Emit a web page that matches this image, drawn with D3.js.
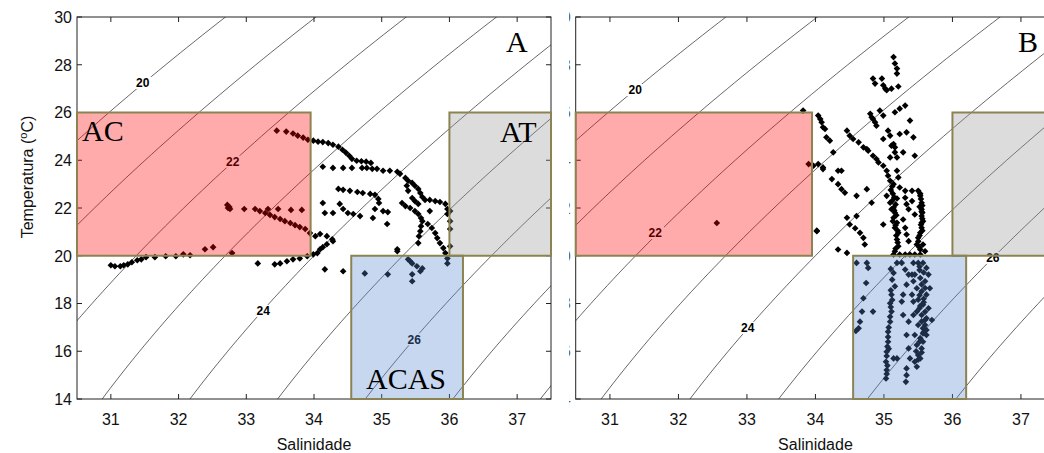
<!DOCTYPE html>
<meta charset="utf-8">
<html>
<script src="https://d3js.org/d3.v7.min.js"></script>
<style>
  body { margin: 0; background: #fff; }
  text { font-family: "Liberation Sans", Arial, sans-serif; }
</style>
<body>
<div id="chart"></div>
<script>

// ---- data ----
const xTicks = [31, 32, 33, 34, 35, 36, 37];
const yTicks = [14, 16, 18, 20, 22, 24, 26, 28, 30];
const sigmaLevels = [20, 21, 22, 23, 24, 25, 26, 27, 28];

// water mass boxes: salinity range, temperature range
const boxNames = ["AC", "AT", "ACAS"];
const boxSmin = [30.5, 36.0, 34.55];
const boxSmax = [33.95, 37.5, 36.2];
const boxTmin = [20, 20, 14];
const boxTmax = [26, 26, 20];

// contour labels (value, S, T) per panel
const labelValsA = [20, 22, 24, 26];
const labelSA = [31.47, 32.80, 33.25, 35.48];
const labelTA = [27.24, 23.94, 17.69, 16.50];
const labelValsB = [20, 22, 24, 26];
const labelSB = [31.37, 31.66, 33.01, 36.59];
const labelTB = [26.94, 20.95, 16.97, 19.91];

// panel A: [salinity, temperature]
const ptsA = [
  [31.00,19.60],[31.06,19.56],[31.14,19.56],[31.19,19.60],[31.25,19.64],[31.31,19.73],[31.39,19.81],
  [31.45,19.85],[31.52,19.94],[31.65,19.94],[31.81,19.98],[31.96,19.98],[32.07,20.06],[32.17,20.02],
  [32.39,20.27],[32.51,20.36],[32.79,20.11],
  [32.72,22.13],[32.75,22.04],[32.76,21.96],[32.73,22.00],[32.97,21.96],[33.13,21.96],[33.20,21.87],
  [33.28,21.79],[33.35,21.71],[33.42,21.62],[33.50,21.54],[33.57,21.45],[33.65,21.37],[33.72,21.28],
  [33.79,21.20],[33.87,21.12],[33.94,20.95],[34.02,20.82],[34.09,20.91],[34.19,20.82],[34.27,20.69],[34.28,20.61],
  [33.32,21.96],[33.47,21.96],[33.66,21.92],[33.82,21.92],
  [33.17,19.68],[33.42,19.64],[33.50,19.68],[33.60,19.77],[33.69,19.85],[33.79,19.89],[33.90,19.98],
  [33.99,20.06],[34.05,20.11],[34.09,20.27],[34.13,20.36],[34.19,20.48],
  [34.16,19.43],[34.43,19.35],
  [33.45,25.24],[33.59,25.20],[33.69,25.12],[33.76,25.03],[33.84,24.95],[33.91,24.86],[33.99,24.82],
  [34.06,24.78],[34.13,24.76],[34.21,24.72],[34.28,24.65],[34.36,24.57],[34.42,24.44],[34.47,24.32],
  [34.52,24.19],[34.56,24.06],[34.63,23.98],[34.70,23.96],[34.77,23.94],[34.84,23.89],
  [34.93,23.64],[35.02,23.56],[35.12,23.56],[35.23,23.52],[35.27,23.43],[35.35,23.26],[35.39,23.14],
  [35.45,23.05],[35.49,22.93],[35.54,22.80],[35.57,22.63],[35.60,22.46],[35.64,22.34],[35.71,22.34],
  [35.79,22.29],[35.86,22.25],[35.94,22.17],[35.97,21.96],[35.97,21.75],
  [34.13,23.73],[34.28,23.68],[34.43,23.68],[34.56,23.68],[34.71,23.68],[34.78,23.68],[34.86,23.64],
  [35.37,22.93],[35.39,22.72],[35.45,22.42],[35.49,22.29],[35.54,22.17],
  [35.30,22.21],[35.35,22.08],[35.42,22.00],[35.49,21.87],[35.54,21.75],[35.58,21.58],[35.60,21.45],
  [35.58,21.24],[35.57,21.03],[35.55,20.82],[35.54,20.53],
  [35.68,21.33],[35.74,21.16],[35.79,20.95],[35.82,20.74],[35.86,20.53],[35.91,20.32],[35.94,20.11],
  [35.97,19.89],[35.97,19.68],[35.71,21.87],
  [34.36,22.80],[34.43,22.76],[34.53,22.72],[34.64,22.67],[34.72,22.63],[34.83,22.59],[34.90,22.55],
  [34.95,22.38],[34.96,22.21],
  [34.38,22.17],[34.43,21.96],[34.50,21.79],[34.58,21.75],[34.68,21.66],
  [34.13,22.21],[34.16,21.79],[34.28,21.79],[34.87,21.58],[34.90,21.96],[35.02,21.87],[35.09,21.83],
  [35.08,21.33],[35.23,20.27],[35.23,20.19],
  [34.75,19.26],[35.09,19.22],[35.39,19.85],[35.45,19.68],[35.52,19.56],[35.57,19.35],[35.60,19.47],
  [35.45,19.22],[35.45,18.93],[35.42,19.77],
  [36.01,21.87],[36.01,21.45],[36.01,21.12],[36.01,20.40]
];

// panel B: [salinity, temperature]
const ptsB = [
  [35.14,28.32],[35.16,28.05],[35.19,27.84],[35.19,27.63],
  [34.84,27.42],[34.87,27.21],[34.97,27.42],[34.99,27.14],[35.02,27.00],[35.04,26.93],[35.11,27.00],[35.21,27.09],
  [33.82,26.08],[34.80,25.95],[34.82,25.80],[34.84,25.73],[34.87,25.59],[34.89,25.45],[34.94,26.08],[34.99,25.87],
  [35.16,26.01],[35.23,26.16],[35.31,26.29],[35.38,25.66],[35.06,25.24],[35.09,25.03],[34.99,24.89],[35.23,25.10],
  [35.33,25.17],[35.43,24.96],[35.11,24.61],[35.14,24.68],
  [34.04,25.87],[34.07,25.73],[34.09,25.59],[34.11,25.38],[34.14,25.31],[34.16,24.96],[34.21,24.82],[34.26,24.33],
  [34.46,25.24],[34.50,25.03],[34.55,24.89],[34.63,24.75],[34.70,24.54],[34.75,24.47],[34.77,24.40],[34.84,24.19],
  [34.89,24.05],[34.92,23.91],
  [35.16,24.54],[35.28,24.33],[35.45,24.19],[35.09,24.12],[35.19,24.12],[35.16,24.33],
  [33.90,23.84],[33.97,23.77],[34.04,23.84],[34.11,23.70],[34.11,23.63],
  [34.33,23.56],[34.38,23.56],[34.24,23.21],[34.33,23.00],[34.38,22.79],[34.43,22.64],[34.60,22.51],[34.75,22.79],[34.82,22.22],
  [34.46,21.59],[34.50,21.31],[34.58,21.15],[34.65,20.96],[34.70,20.75],[34.72,20.47],[34.02,21.03],[34.33,20.26],
  [34.46,20.12],[34.60,21.66],
  [34.99,23.77],[35.04,23.56],[35.06,23.35],[35.09,23.14],[35.14,23.00],[35.19,23.56],[35.21,23.28],[35.04,22.51],
  [35.09,22.22],[35.14,22.01],[35.16,21.80],[35.14,21.59],[35.19,21.38],[35.16,21.17],[35.21,20.96],[35.19,20.68],
  [35.21,20.40],[35.16,20.19],[35.14,20.05],[35.31,22.43],[35.33,22.16],[35.36,21.95],[35.28,21.52],[35.31,21.17],
  [35.33,20.89],[35.36,20.61],[35.41,22.29],[35.23,22.86],[35.31,22.72],[34.99,21.31],[35.11,21.95],[35.19,22.40],
  [35.12,22.90],[35.10,22.75],[35.13,22.60],[35.15,22.45],[35.12,22.30],[35.17,22.15],[35.15,21.90],[35.18,21.70],
  [35.13,21.45],[35.17,21.28],[35.20,21.05],[35.18,20.85],[35.20,20.55],[35.17,20.30],
  [35.50,22.72],[35.53,22.51],[35.55,22.22],[35.55,21.95],[35.55,21.66],[35.57,21.45],[35.55,21.17],[35.53,20.96],
  [35.50,20.75],[35.48,20.47],[35.53,20.26],[35.57,20.47],[35.60,20.19],[35.45,21.73],[35.41,22.72],[35.52,22.05],
  [35.56,21.80],[35.54,21.30],
  [35.53,22.60],[35.54,22.38],[35.56,22.10],[35.55,21.85],[35.56,21.55],[35.55,21.38],[35.56,21.05],[35.52,20.85],
  [35.50,20.60],[35.52,20.35],
  [35.23,20.05],[35.31,20.05],[35.38,20.05],[35.45,20.05],[35.53,20.05],
  [32.56,21.37],[34.02,21.05],
  [34.60,19.70],[34.75,19.70],[34.77,19.49],[34.74,18.86],[34.70,18.22],[34.68,17.66],[34.65,17.24],[34.63,16.96],
  [34.59,16.85],[34.84,17.66],
  [35.19,19.70],[35.14,19.28],[35.16,18.72],[35.11,18.37],[35.09,18.01],[35.11,17.66],[35.09,17.24],[35.06,16.82],
  [35.06,16.40],[35.04,15.98],[35.03,15.56],[35.04,15.21],[35.03,14.86],[35.14,15.70],[35.19,15.70],[35.07,16.10],
  [35.10,19.45],[35.12,19.00],[35.10,18.55],[35.12,18.15],[35.10,17.85],[35.09,17.45],[35.07,17.00],[35.06,16.60],
  [35.05,16.20],[35.04,15.80],[35.05,15.40],[35.04,15.05],
  [35.26,19.70],[35.31,19.42],[35.36,19.21],[35.33,18.79],[35.28,18.37],[35.26,18.08],[35.28,17.52],[35.36,17.24],
  [35.33,16.68],[35.36,16.12],[35.38,15.70],[35.33,15.28],[35.33,15.00],[35.32,14.72],
  [35.43,19.70],[35.50,19.70],[35.57,19.70],[35.62,19.49],[35.45,19.21],[35.53,19.07],[35.60,18.93],[35.48,18.64],
  [35.55,18.51],[35.62,18.37],[35.50,18.16],[35.57,17.95],[35.48,17.66],[35.55,17.52],[35.62,17.38],[35.70,17.31],
  [35.50,17.10],[35.57,16.96],[35.62,16.68],[35.53,16.54],[35.48,16.26],[35.55,16.12],[35.50,15.84],[35.45,15.56],
  [35.48,15.35],[35.53,15.70],[35.41,19.21],[35.43,18.93],[35.41,18.37],[35.43,18.08],[35.65,19.21],[35.67,18.64],
  [35.65,17.80],[35.62,16.89],[35.57,16.40],[35.60,17.31],[35.43,17.52],[35.45,16.68],[35.52,19.40],[35.58,18.20],
  [35.52,17.80],[35.60,17.10],[35.58,16.80],[35.47,16.00],
  [35.52,19.55],[35.58,19.30],[35.55,18.80],[35.60,18.65],[35.52,18.35],[35.58,18.05],[35.53,17.90],[35.60,17.65],
  [35.55,17.25],[35.57,16.75],[35.52,16.40],[35.55,15.95],[35.50,15.65]
];

// ---- layout ----
const width = 1044, height = 453;
const plotTop = 17, plotBottom = 399;

const svg = d3.select("#chart")
  .append("svg")
    .attr("width", width)
    .attr("height", height)
    .style("display", "block");

const y = d3.scaleLinear().domain([14, 30]).range([plotBottom, plotTop]);

// UNESCO 1981 density at surface, minus 1000
function sigmaT(S, T) {
  const rw = 999.842594 + 6.793952e-2*T - 9.095290e-3*T*T + 1.001685e-4*T**3
    - 1.120083e-6*T**4 + 6.536332e-9*T**5;
  const a = 0.824493 - 4.0899e-3*T + 7.6438e-5*T*T - 8.2467e-7*T**3 + 5.3875e-9*T**4;
  const b = -5.72466e-3 + 1.0227e-4*T - 1.6546e-6*T*T;
  return rw + a*S + b*Math.pow(S, 1.5) + 4.8314e-4*S*S - 1000;
}

function isoline(level) {
  const out = [];
  for (let T = 13; T <= 31.001; T += 0.25) {
    let lo = 20, hi = 45;
    for (let k = 0; k < 40; k++) {
      const mid = (lo + hi) / 2;
      if (sigmaT(mid, T) < level) lo = mid; else hi = mid;
    }
    out.push([(lo + hi) / 2, T]);
  }
  return out;
}

function drawPanel(id, left, right, pts, labVals, labS, labT, letter, letterX) {
  const x = d3.scaleLinear().domain([30.5, 37.5]).range([left, right]);
  const g = svg.append("g");

  g.append("clipPath").attr("id", "clip" + id)
    .append("rect")
      .attr("x", left).attr("y", plotTop)
      .attr("width", Math.min(right, width) - left).attr("height", plotBottom - plotTop);

  const plot = g.append("g").attr("clip-path", `url(#clip${id})`);

  // isopycnals
  const line = d3.line().x(d => x(d[0])).y(d => y(d[1]));
  plot.selectAll(".iso")
    .data(sigmaLevels)
    .join("path")
      .attr("fill", "none")
      .attr("stroke", "#000")
      .attr("stroke-width", 0.6)
      .attr("d", d => line(isoline(d)));

  // contour labels
  const lab = plot.selectAll(".lab")
    .data(labVals)
    .join("g")
      .attr("transform", (d, i) => `translate(${x(labS[i])},${y(labT[i])})`);
  lab.append("rect")
    .attr("x", -9).attr("y", -6).attr("width", 18).attr("height", 12)
    .attr("fill", "#fff");
  lab.append("text")
    .attr("text-anchor", "middle")
    .attr("dy", "0.36em")
    .style("font-size", "12px")
    .style("font-weight", "bold")
    .text(d => d);

  // observations
  plot.selectAll(".pt")
    .data(pts)
    .join("path")
      .attr("transform", d => `translate(${x(d[0])},${y(d[1])}) rotate(45)`)
      .attr("d", d3.symbol(d3.symbolSquare, 22))
      .attr("fill", "#000");

  // frame with inward ticks
  g.append("rect")
    .attr("x", left).attr("y", plotTop)
    .attr("width", right - left).attr("height", plotBottom - plotTop)
    .attr("fill", "none").attr("stroke", "#222").attr("stroke-width", 1);
  xTicks.forEach(t => {
    g.append("line").attr("x1", x(t)).attr("x2", x(t)).attr("y1", plotBottom).attr("y2", plotBottom - 5)
      .attr("stroke", "#222");
    g.append("line").attr("x1", x(t)).attr("x2", x(t)).attr("y1", plotTop).attr("y2", plotTop + 5)
      .attr("stroke", "#222");
  });
  yTicks.forEach(t => {
    g.append("line").attr("x1", left).attr("x2", left + 5).attr("y1", y(t)).attr("y2", y(t))
      .attr("stroke", "#222");
    g.append("line").attr("x1", right).attr("x2", right - 5).attr("y1", y(t)).attr("y2", y(t))
      .attr("stroke", "#222");
  });

  // water mass boxes
  const fills = ["rgb(255,0,0)", "rgb(150,150,150)", "rgb(84,135,210)"];
  g.selectAll(".box")
    .data(boxNames)
    .join("rect")
      .attr("x", (d, i) => x(boxSmin[i]))
      .attr("y", (d, i) => y(boxTmax[i]))
      .attr("width", (d, i) => x(boxSmax[i]) - x(boxSmin[i]))
      .attr("height", (d, i) => y(boxTmin[i]) - y(boxTmax[i]))
      .attr("fill", (d, i) => fills[i])
      .attr("fill-opacity", 0.33)
      .attr("stroke", "#8c8352")
      .attr("stroke-width", 2);

  // tick labels
  g.selectAll(".xt")
    .data(xTicks)
    .join("text")
      .attr("x", d => x(d)).attr("y", 425)
      .attr("text-anchor", "middle")
      .style("font-size", "16px").style("fill", "#111")
      .text(d => d);
  g.selectAll(".yt")
    .data(yTicks)
    .join("text")
      .attr("x", left - 5).attr("y", d => y(d))
      .attr("dy", "0.36em")
      .attr("text-anchor", "end")
      .style("font-size", "16px").style("fill", "#111")
      .text(d => d);

  g.append("text")
    .attr("x", (left + right) / 2).attr("y", 450)
    .attr("text-anchor", "middle")
    .style("font-size", "16px").style("fill", "#111")
    .text("Salinidade");

  // panel letter
  g.append("text")
    .attr("x", letterX).attr("y", 52)
    .style("font-family", "'Liberation Serif', 'Times New Roman', serif")
    .style("font-size", "30px")
    .text(letter);

  return x;
}

drawPanel("A", 77, 551, ptsA, labelValsA, labelSA, labelTA, "A", 506);
drawPanel("B", 575.7, 1055.2, ptsB, labelValsB, labelSB, labelTB, "B", 1018);

// white strip between panels hides most of panel B's y tick labels
svg.append("rect").attr("x", 552).attr("y", 0).attr("width", 17.3).attr("height", height).attr("fill", "#fff");

// water mass names in panel A
const serif = "'Liberation Serif', 'Times New Roman', serif";
svg.append("text").attr("x", 82).attr("y", 141).style("font-family", serif).style("font-size", "30px").text("AC");
svg.append("text").attr("x", 500).attr("y", 142).style("font-family", serif).style("font-size", "30px").text("AT");
svg.append("text").attr("x", 366).attr("y", 389).style("font-family", serif).style("font-size", "30px").text("ACAS");

// y axis title
const yl = svg.append("text")
  .attr("transform", "translate(33,177) rotate(-90)")
  .attr("text-anchor", "middle")
  .style("font-size", "16px").style("fill", "#111");
yl.append("tspan").text("Temperatura (");
yl.append("tspan").attr("dy", -6).style("font-size", "11px").text("o");
yl.append("tspan").attr("dy", 6).text("C)");

</script>
</body>
</html>
